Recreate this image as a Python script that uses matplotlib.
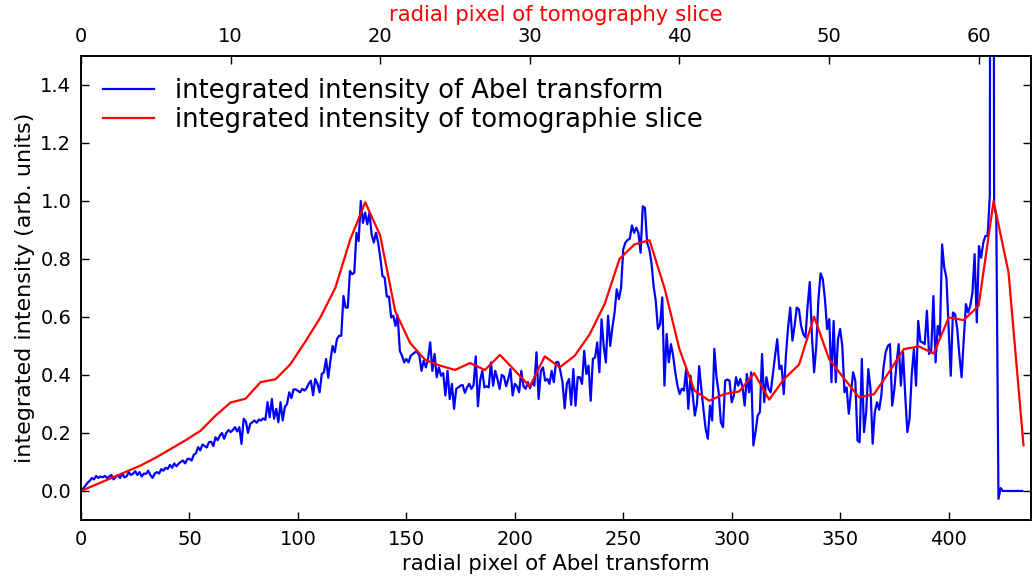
import numpy as np
import matplotlib
matplotlib.use("Agg")
import matplotlib.pyplot as plt

# integrated intensity of the Abel transform, one value per radial pixel (0..437)
abel_seg1 = [0.0, 0.008, 0.018, 0.028, 0.035, 0.045, 0.04, 0.052, 0.045, 0.05,
             0.047, 0.052, 0.045, 0.05, 0.055, 0.04, 0.048, 0.055, 0.045, 0.06,
             0.047, 0.05, 0.065, 0.055, 0.06, 0.068, 0.055, 0.065, 0.05, 0.06,
             0.059, 0.07, 0.055, 0.045, 0.06, 0.065, 0.06, 0.075, 0.07, 0.08,
             0.076, 0.09, 0.08, 0.095, 0.085, 0.094, 0.1, 0.105, 0.095, 0.11]
abel_seg2 = [0.111, 0.105, 0.125, 0.13, 0.151, 0.14, 0.16, 0.155, 0.15,
             0.168, 0.17, 0.155, 0.185, 0.175, 0.191, 0.2, 0.18, 0.2, 0.21,
             0.203, 0.21, 0.22, 0.205, 0.22, 0.162, 0.249, 0.24, 0.2, 0.231,
             0.237, 0.243, 0.235, 0.246, 0.243, 0.25, 0.245, 0.306, 0.254, 0.317,
             0.249, 0.283, 0.237, 0.306, 0.243, 0.29, 0.30, 0.34, 0.32, 0.35]
abel_seg3 = [0.35, 0.345, 0.34, 0.352, 0.346, 0.354, 0.37, 0.38, 0.33, 0.386,
             0.37, 0.34, 0.403, 0.409, 0.455, 0.39, 0.45, 0.50, 0.478, 0.523,
             0.535, 0.535, 0.672, 0.632, 0.632, 0.758, 0.747, 0.752, 0.89, 0.861,
             0.999, 0.924, 0.959, 0.919, 0.959, 0.884, 0.856, 0.89, 0.856, 0.804,
             0.741, 0.735, 0.67, 0.67, 0.598, 0.604, 0.569, 0.606, 0.483, 0.466]
abel_seg4 = [0.443, 0.455, 0.443, 0.466, 0.472, 0.478, 0.48, 0.466, 0.414, 0.449,
             0.426, 0.455, 0.512, 0.414, 0.472, 0.392, 0.426, 0.397, 0.406,
             0.329, 0.414, 0.317, 0.369, 0.283, 0.352, 0.357, 0.363, 0.365, 0.338,
             0.357, 0.369, 0.352, 0.365, 0.464, 0.292, 0.38, 0.414, 0.357, 0.361,
             0.357, 0.443, 0.363, 0.414, 0.386, 0.352, 0.40, 0.395, 0.361, 0.386]
abel_seg5 = [0.42, 0.329, 0.369, 0.361, 0.34, 0.414, 0.361, 0.352, 0.375, 0.354,
             0.375, 0.363, 0.478, 0.317, 0.414, 0.426, 0.38, 0.386, 0.369, 0.414,
             0.375, 0.443, 0.445, 0.414, 0.375, 0.285, 0.369, 0.386, 0.297, 0.42,
             0.294, 0.392, 0.392, 0.369, 0.483, 0.403, 0.432, 0.311, 0.455, 0.46,
             0.512, 0.409, 0.592, 0.50, 0.443, 0.604, 0.50, 0.564, 0.615, 0.695]
abel_seg6 = [0.661, 0.70, 0.833, 0.856, 0.865, 0.869, 0.915, 0.89, 0.907, 0.89,
             0.821, 0.981, 0.976, 0.856, 0.833, 0.787, 0.706, 0.655, 0.558,
             0.575, 0.667, 0.363, 0.541, 0.443, 0.506, 0.466, 0.409, 0.363, 0.334,
             0.352, 0.346, 0.42, 0.283, 0.397, 0.334, 0.26, 0.30, 0.43, 0.352,
             0.28, 0.214, 0.18, 0.294, 0.243, 0.49, 0.392, 0.34, 0.237, 0.22]
abel_seg7 = [0.38, 0.384, 0.38, 0.306, 0.329, 0.392, 0.363, 0.386, 0.357, 0.294,
             0.403, 0.34, 0.409, 0.157, 0.203, 0.26, 0.272, 0.472, 0.306, 0.392,
             0.352, 0.34, 0.403, 0.466, 0.523, 0.42, 0.432, 0.334, 0.466, 0.564,
             0.632, 0.518, 0.569, 0.632, 0.626, 0.569, 0.541, 0.529, 0.638, 0.72,
             0.535, 0.409, 0.50, 0.661, 0.75, 0.73, 0.661, 0.558, 0.592, 0.375]
abel_seg8 = [0.586, 0.375, 0.523, 0.558, 0.50, 0.34, 0.357, 0.266, 0.34, 0.409,
             0.38, 0.174, 0.168, 0.455, 0.203, 0.272, 0.42, 0.352, 0.163, 0.272,
             0.306, 0.28, 0.33, 0.426, 0.478, 0.50, 0.506, 0.294, 0.351,
             0.44, 0.506, 0.363, 0.478, 0.33, 0.203, 0.248, 0.40, 0.489, 0.363,
             0.586, 0.515, 0.512, 0.506, 0.621, 0.472, 0.483, 0.672, 0.443, 0.569]
abel_seg9 = [0.535, 0.85, 0.77, 0.735, 0.569, 0.397, 0.615, 0.609, 0.558, 0.466,
             0.392, 0.523, 0.644, 0.615, 0.638, 0.684, 0.816, 0.581, 0.844, 0.804,
             0.856, 0.879, 0.879, 1.016, 6.0, 0.98, 0.947, -0.027, 0.01, 0.0,
             0.0, 0.0, 0.0, 0.0, 0.0, 0.0, 0.0, 0.0, 0.0]

# integrated intensity of the tomography slice, one value per radial pixel (0..63)
tomo = [0.0, 0.022, 0.044, 0.066, 0.088, 0.115, 0.145, 0.175, 0.208, 0.26,
        0.305, 0.318, 0.375, 0.385, 0.437, 0.515, 0.598, 0.70, 0.867, 0.995,
        0.88, 0.62, 0.51, 0.452, 0.432, 0.417, 0.441, 0.417, 0.469, 0.415,
        0.36, 0.464, 0.426, 0.466, 0.54, 0.644, 0.80, 0.85, 0.864, 0.70,
        0.489, 0.346, 0.311, 0.334, 0.343, 0.406, 0.315, 0.386, 0.436, 0.601,
        0.455, 0.388, 0.323, 0.333, 0.409, 0.489, 0.498, 0.474, 0.598, 0.589,
        0.638, 0.999, 0.752, 0.157]

abel = np.array(abel_seg1 + abel_seg2 + abel_seg3 + abel_seg4 + abel_seg5
                + abel_seg6 + abel_seg7 + abel_seg8 + abel_seg9)
r_abel = np.arange(len(abel))
r_tomo = np.arange(len(tomo))

fig = plt.figure(figsize=(10.32, 5.84), dpi=100)
ax = fig.add_axes([81/1032, 1 - 520/584, 950/1032, (520 - 55.7)/584])

l1, = ax.plot(r_abel, abel, color='b', lw=1.6,
              label='integrated intensity of Abel transform')
ax.set_xlim(0, 438)
ax.set_ylim(-0.1, 1.5)
ax.set_xticks(np.arange(0, 401, 50))
ax.set_yticks(np.arange(0, 1.41, 0.2))
ax.set_xlabel('radial pixel of Abel transform', fontsize=15.3)
ax.set_ylabel('integrated intensity (arb. units)', fontsize=16)
ax.tick_params(direction='in', length=6, width=1, labelsize=14, pad=7,
               right=True, top=False)

ax2 = ax.twiny()
l2, = ax2.plot(r_tomo, tomo, color='r', lw=1.6,
               label='integrated intensity of tomographie slice')
ax2.set_xlim(0, 63.5)
ax2.set_xticks(np.arange(0, 61, 10))
ax2.set_xlabel('radial pixel of tomography slice', fontsize=15.3, color='r')
ax2.tick_params(direction='in', length=6, width=1, labelsize=14, pad=7)

for a in (ax, ax2):
    for s in a.spines.values():
        s.set_linewidth(1.2)

ax.legend(handles=[l1, l2], loc='upper left', fontsize=18.5, frameon=False,
          bbox_to_anchor=(0.0, 1.0), borderaxespad=0.45, handletextpad=0.8,
          labelspacing=0.15)

fig.savefig('out.png', dpi=100)
